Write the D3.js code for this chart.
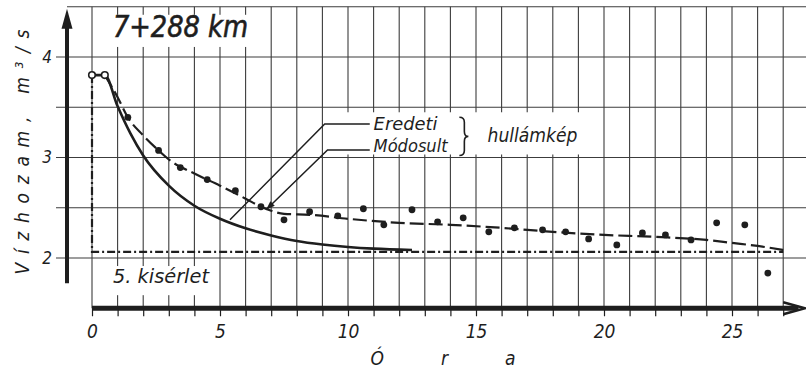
<!DOCTYPE html>
<html>
<head>
<meta charset="utf-8">
<script src="https://cdn.jsdelivr.net/npm/d3@7"></script>
<style>
  body { margin: 0; background: #fff; }
  text { font-family: "DejaVu Sans Condensed", "Liberation Sans Narrow", sans-serif; font-style: italic; fill: #1e1e1e; }
</style>
</head>
<body>
<div id="chart"></div>
<script>
// hours (óra) and discharge (vízhozam, m3/s)
const solidHours  = [0, 0.5, 1, 1.5, 2, 3, 4, 5, 6, 7, 8, 9, 10, 11, 12.5];
const solidValues = [3.82, 3.82, 3.51, 3.24, 3.02, 2.72, 2.52, 2.39, 2.295, 2.225, 2.17, 2.135, 2.11, 2.093, 2.08];

const dashedHours  = [0.5, 1, 1.4, 2, 2.6, 3, 4, 5, 6, 6.6, 7, 7.5, 8.5, 10, 12, 14, 16, 18, 20, 22, 24, 25, 26, 27];
const dashedValues = [3.82, 3.60, 3.40, 3.22, 3.07, 2.98, 2.84, 2.72, 2.59, 2.51, 2.47, 2.44, 2.43, 2.39, 2.35, 2.33, 2.30, 2.26, 2.23, 2.21, 2.18, 2.15, 2.12, 2.08];

const baseHours  = [0, 0, 27];
const baseValues = [3.82, 2.06, 2.06];

const startHours  = [0, 0.5];
const startValues = [3.82, 3.82];

const pointHours  = [1.4, 2.6, 3.45, 4.5, 5.6, 6.6, 7.5, 8.5, 9.6, 10.6, 11.4, 12.5, 13.5, 14.5, 15.5, 16.5, 17.6, 18.5, 19.4, 20.5, 21.5, 22.4, 23.4, 24.4, 25.5, 26.4];
const pointValues = [3.40, 3.07, 2.90, 2.78, 2.67, 2.51, 2.38, 2.46, 2.42, 2.49, 2.33, 2.48, 2.36, 2.40, 2.26, 2.30, 2.28, 2.26, 2.19, 2.13, 2.25, 2.23, 2.18, 2.35, 2.33, 1.85];

const xTickLabels = [0, 5, 10, 15, 20, 25];
const yTickLabels = [2, 3, 4];

const W = 806, H = 371;
const zip = (a, b) => a.map((d, i) => ({ h: d, v: b[i] }));

const svg = d3.select("#chart").append("svg")
  .attr("width", W)
  .attr("height", H);

svg.append("rect").attr("width", W).attr("height", H).attr("fill", "#fff");

const x = d3.scaleLinear().domain([0, 25]).range([92, 732]);
const y = d3.scaleLinear().domain([2, 4]).range([258, 57]);

const ink = "#1e1e1e";
const gridColor = "#3c3c3c";

// grid
const grid = svg.append("g").attr("stroke", gridColor).attr("stroke-width", 1.1);
grid.selectAll(".vgrid")
  .data(d3.range(0, 28))
  .enter().append("line")
  .attr("x1", d => x(d)).attr("x2", d => x(d))
  .attr("y1", y(4.5)).attr("y2", y(1.5));
grid.selectAll(".hgrid")
  .data([2, 2.5, 3, 3.5, 4, 4.5])
  .enter().append("line")
  .attr("x1", d => d === 4.5 ? 67 : 56).attr("x2", W)
  .attr("y1", d => y(d)).attr("y2", d => y(d));

// white patches behind the lettering
const patch = svg.append("g").attr("fill", "#fff");
patch.append("rect").attr("x", x(0.3)).attr("y", y(4.42)).attr("width", x(6.5) - x(0.3)).attr("height", y(4.1) - y(4.42));
patch.append("rect").attr("x", x(0.5)).attr("y", y(1.92)).attr("width", x(4.8) - x(0.5)).attr("height", y(1.63) - y(1.92));
patch.append("rect").attr("x", x(9.6)).attr("y", y(3.45)).attr("width", x(19.7) - x(9.6)).attr("height", y(3.03) - y(3.45));

// axes lines
svg.append("line")
  .attr("x1", 67).attr("x2", 67)
  .attr("y1", y(4.35)).attr("y2", y(1.75))
  .attr("stroke", ink).attr("stroke-width", 4);
svg.append("path")
  .attr("d", `M67,${y(4.5) + 2} L61.5,${y(4.28)} L72.5,${y(4.28)} Z`)
  .attr("fill", ink);

svg.append("line")
  .attr("x1", x(0)).attr("x2", x(27.6))
  .attr("y1", y(1.5)).attr("y2", y(1.5))
  .attr("stroke", ink).attr("stroke-width", 5);
svg.append("path")
  .attr("d", `M${x(27)},${y(1.5) - 6} L${W - 1},${y(1.5)} L${x(27)},${y(1.5) + 6}`)
  .attr("fill", "none").attr("stroke", ink).attr("stroke-width", 2.5);

const xAxis = svg.append("g")
  .attr("transform", `translate(0, ${y(1.5)})`)
  .call(d3.axisBottom(x)
    .tickValues(d3.range(0, 28))
    .tickSize(8)
    .tickPadding(8)
    .tickFormat(d => xTickLabels.includes(d) ? d : ""));
xAxis.select(".domain").remove();
xAxis.selectAll("line").attr("stroke", ink).attr("stroke-width", 1.2);
xAxis.selectAll("text")
  .attr("fill", ink)
  .style("font-size", "19px")
  .style("font-family", "\"DejaVu Sans Condensed\", sans-serif")
  .style("font-style", "italic");

const yAxis = svg.append("g")
  .attr("transform", "translate(57, 0)")
  .call(d3.axisLeft(y).tickValues(yTickLabels).tickSize(0).tickPadding(5).tickFormat(d3.format("d")));
yAxis.select(".domain").remove();
yAxis.selectAll("text")
  .attr("fill", ink)
  .style("font-size", "17px")
  .style("font-family", "\"DejaVu Sans Condensed\", sans-serif")
  .style("font-style", "italic");

// curves
const line = d3.line().x(d => x(d.h)).y(d => y(d.v));
const smooth = d3.line().x(d => x(d.h)).y(d => y(d.v)).curve(d3.curveMonotoneX);

svg.append("path")
  .datum(zip(baseHours, baseValues))
  .attr("d", line)
  .attr("fill", "none").attr("stroke", ink).attr("stroke-width", 2.2)
  .attr("stroke-dasharray", "8,3,2,3");

svg.append("path")
  .datum(zip(solidHours, solidValues))
  .attr("d", smooth)
  .attr("fill", "none").attr("stroke", ink).attr("stroke-width", 2.6);

svg.append("path")
  .datum(zip(dashedHours, dashedValues))
  .attr("d", smooth)
  .attr("fill", "none").attr("stroke", ink).attr("stroke-width", 2.2)
  .attr("stroke-dasharray", "14,5");

svg.selectAll(".point")
  .data(zip(pointHours, pointValues))
  .enter().append("circle")
  .attr("class", "point")
  .attr("cx", d => x(d.h)).attr("cy", d => y(d.v))
  .attr("r", 3.4)
  .attr("fill", ink);

svg.selectAll(".start")
  .data(zip(startHours, startValues))
  .enter().append("circle")
  .attr("class", "start")
  .attr("cx", d => x(d.h)).attr("cy", d => y(d.v))
  .attr("r", 3.3)
  .attr("fill", "#fff").attr("stroke", ink).attr("stroke-width", 1.6);

// leader lines of the legend
const leaders = [
  [[10.85, 3.333], [9.09, 3.333], [5.39, 2.38]],
  [[10.85, 3.075], [9.2, 3.075], [6.8, 2.48]]
];
svg.selectAll(".leader")
  .data(leaders)
  .enter().append("path")
  .attr("d", d => d3.line()(d.map(p => [x(p[0]), y(p[1])])))
  .attr("fill", "none").attr("stroke", ink).attr("stroke-width", 1.5);

const tip = [x(6.8), y(2.48)];
const ang = Math.atan2(y(3.075) - y(2.48), x(9.2) - x(6.8));
const ahL = 9, ahW = 3.2;
const bx = tip[0] + ahL * Math.cos(ang), by = tip[1] + ahL * Math.sin(ang);
svg.append("path")
  .attr("d", `M${tip[0]},${tip[1]} L${bx - ahW * Math.sin(ang)},${by + ahW * Math.cos(ang)} L${bx + ahW * Math.sin(ang)},${by - ahW * Math.cos(ang)} Z`)
  .attr("fill", ink);

// brace
const bxp = x(14.35), bt = y(3.4), bb = y(3.02), bm = (bt + bb) / 2;
svg.append("path")
  .attr("d", `M${bxp},${bt} Q${bxp + 5},${bt} ${bxp + 5},${bt + 5} L${bxp + 5},${bm - 5} Q${bxp + 5},${bm} ${bxp + 9},${bm}` +
             ` Q${bxp + 5},${bm} ${bxp + 5},${bm + 5} L${bxp + 5},${bb - 5} Q${bxp + 5},${bb} ${bxp},${bb}`)
  .attr("fill", "none").attr("stroke", ink).attr("stroke-width", 1.6);

// lettering
svg.append("text")
  .attr("x", x(0.82)).attr("y", y(3.87) - 33)
  .attr("textLength", 135).attr("lengthAdjust", "spacingAndGlyphs")
  .attr("stroke", ink).attr("stroke-width", 0.6)
  .style("font-size", "30px")
  .text("7+288 km");

svg.append("text")
  .attr("x", x(0.82)).attr("y", y(1.75))
  .attr("textLength", 96).attr("lengthAdjust", "spacingAndGlyphs")
  .style("font-size", "20px")
  .text("5. kisérlet");

svg.append("text")
  .attr("x", x(11.0)).attr("y", y(3.27))
  .attr("textLength", 64).attr("lengthAdjust", "spacingAndGlyphs")
  .style("font-size", "17px")
  .text("Eredeti");

svg.append("text")
  .attr("x", x(11.0)).attr("y", y(3.05))
  .attr("textLength", 74).attr("lengthAdjust", "spacingAndGlyphs")
  .style("font-size", "17px")
  .text("Módosult");

svg.append("text")
  .attr("x", x(15.45)).attr("y", y(3.15))
  .attr("textLength", 90).attr("lengthAdjust", "spacingAndGlyphs")
  .style("font-size", "19px")
  .text("hullámkép");

svg.append("text")
  .attr("transform", "translate(29, 152) rotate(-90)")
  .attr("text-anchor", "middle")
  .attr("textLength", 245).attr("lengthAdjust", "spacing")
  .style("font-size", "19px")
  .text("Vízhozam,  m³/s");

svg.append("text")
  .attr("x", 443).attr("y", 365)
  .attr("text-anchor", "middle")
  .attr("textLength", 145).attr("lengthAdjust", "spacing")
  .style("font-size", "19px")
  .text("Óra");
</script>
</body>
</html>
